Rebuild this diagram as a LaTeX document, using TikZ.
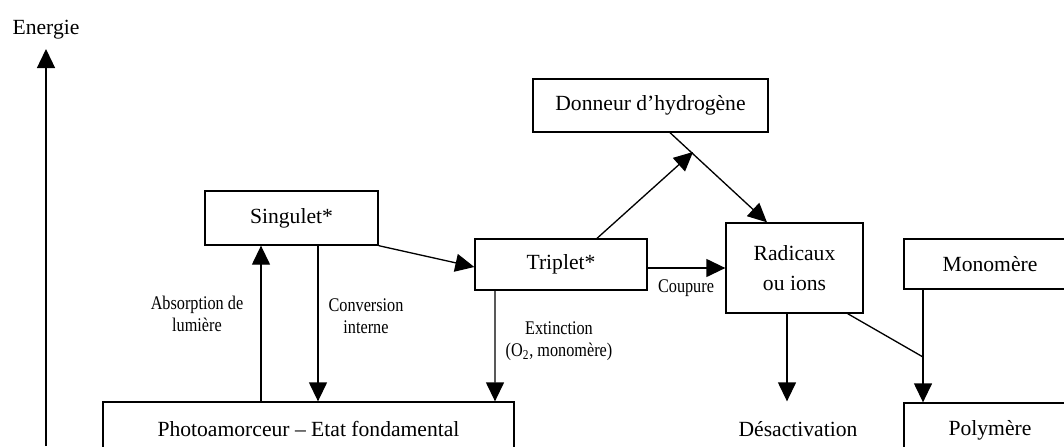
\documentclass[tikz,border=0pt]{standalone}
\usepackage{fontspec}
\setmainfont{Liberation Serif}
\newfontfamily\labfont[FakeStretch=0.84]{Liberation Serif}
\usetikzlibrary{arrows.meta}

\begin{document}
\begin{tikzpicture}[line width=0.75pt,
        box/.style={draw, minimum width=3.44cm, minimum height=1.02cm, inner sep=0pt, align=center, font=\fontsize{12.3}{17}\selectfont},
        plain/.style={minimum height=1.08cm, inner sep=0pt, font=\fontsize{12.3}{17}\selectfont},
        lab/.style={align=center, inner sep=0pt, font=\labfont\fontsize{11}{12.5}\selectfont},
        arr/.style={-{Triangle[length=0.38cm,width=0.36cm]}}]
        \useasboundingbox (0,0) rectangle (21.28,-8.92);
        % energy axis
        \node[plain, minimum height=0pt] (energie) at (0.92,-0.60) {Energie};
        \coordinate (axisbot) at (0.92,-8.92);
        \coordinate (axistop) at (0.92,-0.98);
        \draw[arr] (axisbot) -- (axistop);
        % states
        \node[box, minimum width=8.22cm, minimum height=1.08cm] (photo) at (6.17,-8.58) {Photoamorceur -- Etat fondamental};
        \node[box, minimum width=3.46cm, minimum height=1.08cm] (singulet) at (5.83,-4.36) {Singulet*};
        \node[box] (triplet) at (11.22,-5.29) {Triplet*};
        \node[box, minimum width=4.70cm, minimum height=1.06cm] (donneur) at (13.01,-2.11) {Donneur d'hydrogène};
        \node[box, minimum width=2.74cm, minimum height=1.80cm] (radicaux) at (15.89,-5.36) {Radicaux\\ou ions};
        \node[box, minimum height=1.00cm] (monomere) at (19.80,-5.28) {Monomère};
        \node[box, minimum height=1.08cm] (polymere) at (19.80,-8.60) {Polymère};
        \node[plain] (desact) at (15.96,-8.58) {Désactivation};
        \coordinate (hmeet) at (13.86,-3.04);
        \coordinate (join) at (18.46,-7.14);
        % transitions
        \draw[arr] ([xshift=-0.95cm]photo.north) -- ([xshift=-0.61cm]singulet.south);
        \draw[arr] ([xshift=0.53cm]singulet.south) -- ([xshift=0.19cm]photo.north);
        \draw[arr] (singulet.south east) -- ([yshift=-0.05cm]triplet.west);
        \draw[arr] ([xshift=-1.32cm]triplet.south) -- ([xshift=3.73cm]photo.north);
        \draw[arr] (triplet.east |- radicaux.west) -- (radicaux.west);
        \draw[arr] ([xshift=0.72cm]triplet.north) -- (hmeet);
        \draw[arr] ([xshift=0.39cm]donneur.south) -- ([xshift=-0.55cm]radicaux.north);
        \draw[arr] ([xshift=-0.15cm]radicaux.south) -- ([xshift=-0.22cm]desact.north);
        \draw[arr] ([xshift=-1.34cm]monomere.south) -- ([xshift=-1.34cm]polymere.north);
        \draw ([xshift=-0.32cm]radicaux.south east) -- (join);
        % labels
        \node[lab] (absorption) at (3.94,-6.28) {Absorption de\\lumière};
        \node[lab] (conversion) at (7.32,-6.32) {Conversion\\interne};
        \node[lab] (extinction) at (11.18,-6.82) {Extinction\\(O\textsubscript{2}, monomère)};
        \node[lab] (coupure) at (13.72,-5.76) {Coupure};
\end{tikzpicture}
\end{document}
